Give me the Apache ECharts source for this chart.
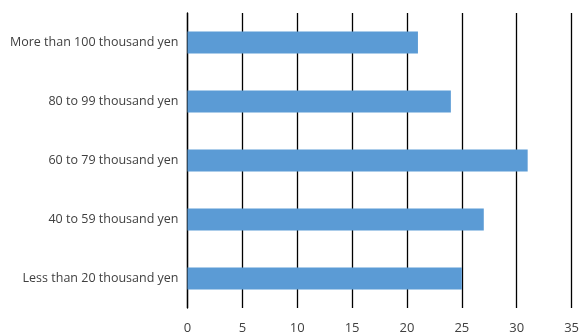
<!DOCTYPE html>
<html><head><meta charset="utf-8">
<script src="https://cdn.jsdelivr.net/npm/echarts@6/dist/echarts.min.js"></script>
<style>html,body{margin:0;padding:0;background:#fff}#c{width:582px;height:335px}</style>
</head><body><div id="c"></div>
<script>
const categories = ["Less than 20 thousand yen","40 to 59 thousand yen","60 to 79 thousand yen","80 to 99 thousand yen","More than 100 thousand yen"];
const values = [25, 27, 31, 24, 21];
const chart = echarts.init(document.getElementById('c'), null, {renderer:'canvas'});
chart.setOption({
  animation:false,
  grid:{left:187.5,right:8.5,top:13,bottom:27,containLabel:false},
  xAxis:{type:'value',min:0,max:35,interval:5,
    axisLine:{show:false},axisTick:{show:false},
    splitLine:{show:true,lineStyle:{color:'#000',width:1.3}},
    axisLabel:{color:'#404040',fontFamily:'Open Sans',fontSize:13,margin:14}},
  yAxis:{type:'category',data:categories,
    axisLine:{show:true,lineStyle:{color:'#000',width:1.3}},axisTick:{show:false},
    axisLabel:{color:'#404040',fontFamily:'Open Sans',fontSize:12.5,margin:9}},
  series:[{type:'bar',data:values,barWidth:'37.5%',itemStyle:{color:'#5b9bd5'},z:3}]
});
</script></body></html>
